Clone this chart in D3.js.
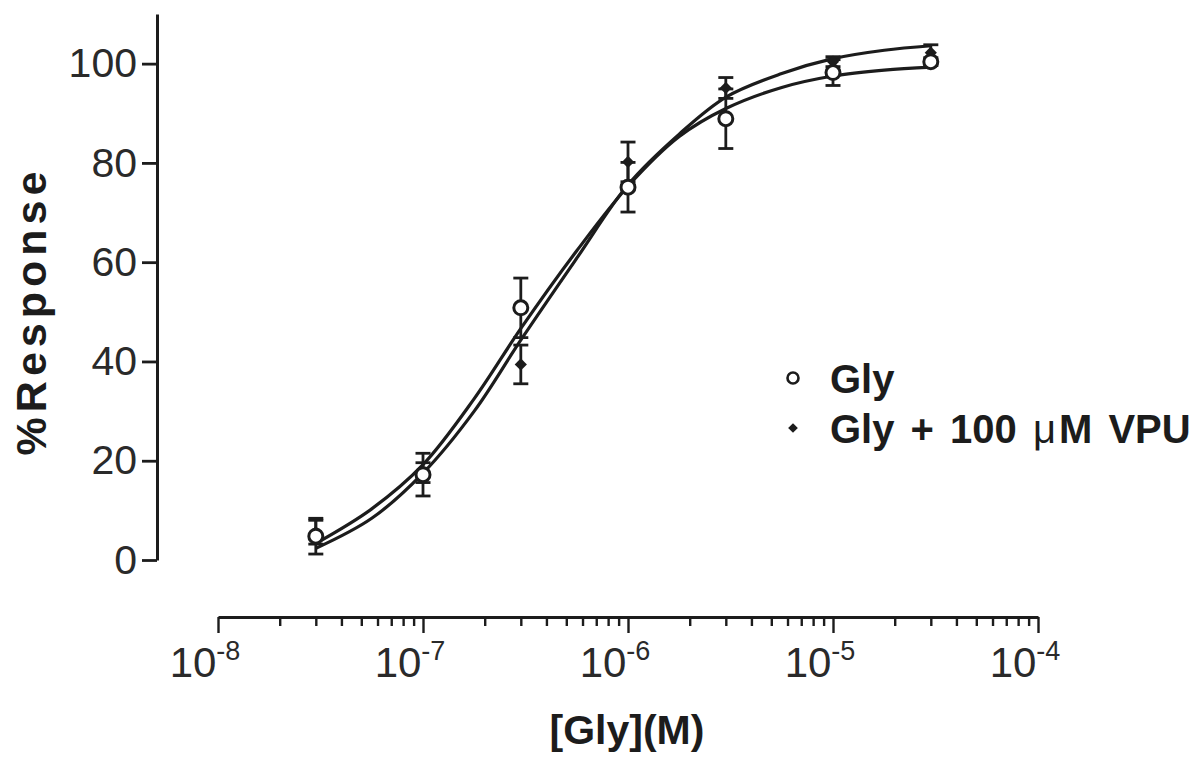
<!DOCTYPE html>
<html>
<head>
<meta charset="utf-8">
<script src="https://cdn.jsdelivr.net/npm/d3@7"></script>
<style>
	html, body { margin: 0; padding: 0; background: #fff; }
	svg { display: block; font-family: "Liberation Sans", Arial, sans-serif; }
</style>
</head>
<body>
<script>
// concentrations of glycine, molar
const conc = [3e-8, 1e-7, 3e-7, 1e-6, 3e-6, 1e-5, 3e-5];

// mean % response and SEM
const glyMean = [4.8, 17.2, 50.8, 75.1, 88.9, 98.2, 100.4];
const glySem = [3.6, 4.3, 6.0, 5.0, 6.0, 2.6, 0.8];
const vpuMean = [5.6, 17.6, 39.4, 80.2, 95.1, 100.4, 102.2];
const vpuSem = [2.4, 2.0, 3.9, 4.0, 2.1, 1.0, 1.6];

// fitted curves (log10 conc, % response)
const fitLogX = [-7.52, -7.25, -7.0, -6.75, -6.52, -6.25, -6.0, -5.75, -5.52, -5.25, -5.0, -4.75, -4.52];
const glyFit = [3.4, 10.3, 19.2, 32.5, 46.8, 62.3, 75.3, 85.3, 91.0, 95.2, 97.5, 98.7, 99.3];
const vpuFit = [2.4, 8.4, 17.5, 30.0, 44.5, 60.8, 75.6, 85.8, 93.3, 98.0, 101.0, 102.7, 103.6];

const yTicks = [0, 20, 40, 60, 80, 100];
const xMajor = [-8, -7, -6, -5, -4];

const legendLabels = ["Gly", "Gly + 100 "];

const width = 1196;
const height = 757;
const ink = "#1c1c1c";

const x = d3.scaleLog().domain([1e-8, 1e-4]).range([218, 1038]);
const y = d3.scaleLinear().domain([0, 110]).range([560, 14]);

const svg = d3.select("body")
	.append("svg")
	.attr("width", width)
	.attr("height", height);

// y axis
const yAxis = svg.append("g")
	.attr("transform", "translate(157,0)")
	.call(d3.axisLeft(y).tickValues(yTicks).tickSize(15).tickSizeOuter(0).tickPadding(5));

yAxis.select(".domain").attr("stroke", ink).attr("stroke-width", 3);
yAxis.selectAll(".tick line").attr("stroke", ink).attr("stroke-width", 2.8);
yAxis.selectAll(".tick text")
	.attr("fill", "#2a2a2a")
	.attr("font-size", 41)
	.attr("font-family", "Liberation Sans, Arial, sans-serif");

// x axis
const xAxis = svg.append("g")
	.attr("transform", "translate(0,617)")
	.call(d3.axisBottom(x).tickValues(x.ticks()).tickFormat("").tickSizeOuter(0));

xAxis.select(".domain").attr("stroke", ink).attr("stroke-width", 3);
xAxis.selectAll(".tick line")
	.attr("stroke", ink)
	.attr("stroke-width", 2.4)
	.attr("y2", (d) => Number.isInteger(Math.round(Math.log10(d) * 1000) / 1000) ? 16 : 9);

svg.append("g")
	.selectAll("text")
	.data(xMajor)
	.join("text")
	.attr("x", (d) => x(Math.pow(10, d)) - 13)
	.attr("y", 677)
	.attr("text-anchor", "middle")
	.attr("fill", "#2a2a2a")
	.attr("font-size", 42)
	.call((t) => t.append("tspan").text("10"))
	.call((t) => t.append("tspan")
		.attr("font-size", 27)
		.attr("dy", -17)
		.text((d) => d));

// axis titles
svg.append("text")
	.attr("x", 627)
	.attr("y", 744)
	.attr("text-anchor", "middle")
	.attr("font-weight", "bold")
	.attr("font-size", 41)
	.attr("fill", ink)
	.text("[Gly](M)");

svg.append("text")
	.attr("transform", "translate(46,311) rotate(-90)")
	.attr("text-anchor", "middle")
	.attr("font-weight", "bold")
	.attr("font-size", 43)
	.attr("letter-spacing", 5)
	.attr("fill", ink)
	.text("%Response");

// fitted curves
const line = d3.line()
	.x((d) => x(Math.pow(10, d[0])))
	.y((d) => y(d[1]))
	.curve(d3.curveCatmullRom.alpha(0.5));

const plot = svg.append("g");

[glyFit, vpuFit].forEach((fit) => {
	plot.append("path")
		.attr("d", line(d3.zip(fitLogX, fit)))
		.attr("fill", "none")
		.attr("stroke", ink)
		.attr("stroke-width", 3.2);
});

// error bars
function errorBars(means, sems) {
	const g = plot.append("g")
		.attr("stroke", ink)
		.attr("stroke-width", 2.8)
		.selectAll("g")
		.data(d3.zip(conc, means, sems))
		.join("g")
		.attr("transform", (d) => `translate(${x(d[0])},0)`);

	g.append("line")
		.attr("y1", (d) => y(d[1] - d[2]))
		.attr("y2", (d) => y(d[1] + d[2]));

	g.append("line")
		.attr("x1", -7.5).attr("x2", 7.5)
		.attr("y1", (d) => y(d[1] + d[2]))
		.attr("y2", (d) => y(d[1] + d[2]));

	g.append("line")
		.attr("x1", -7.5).attr("x2", 7.5)
		.attr("y1", (d) => y(d[1] - d[2]))
		.attr("y2", (d) => y(d[1] - d[2]));
}

errorBars(vpuMean, vpuSem);
errorBars(glyMean, glySem);

const diamond = d3.symbol().type(d3.symbolDiamond2).size(95);

plot.append("g")
	.selectAll("path")
	.data(d3.zip(conc, vpuMean))
	.join("path")
	.attr("transform", (d) => `translate(${x(d[0])},${y(d[1])})`)
	.attr("d", diamond)
	.attr("fill", ink);

plot.append("g")
	.selectAll("circle")
	.data(d3.zip(conc, glyMean))
	.join("circle")
	.attr("cx", (d) => x(d[0]))
	.attr("cy", (d) => y(d[1]))
	.attr("r", 7)
	.attr("fill", "#fff")
	.attr("stroke", ink)
	.attr("stroke-width", 3);

// legend
const legend = svg.append("g");

legend.append("circle")
	.attr("cx", 793)
	.attr("cy", 378)
	.attr("r", 5.5)
	.attr("fill", "#fff")
	.attr("stroke", ink)
	.attr("stroke-width", 2.6);

legend.append("path")
	.attr("transform", "translate(793,428)")
	.attr("d", d3.symbol().type(d3.symbolDiamond2).size(60))
	.attr("fill", ink);

legend.append("text")
	.attr("x", 830)
	.attr("y", 393)
	.attr("font-weight", "bold")
	.attr("font-size", 40)
	.attr("fill", ink)
	.text(legendLabels[0]);

const vpuLabel = legend.append("text")
	.attr("x", 830)
	.attr("y", 443)
	.attr("font-weight", "bold")
	.attr("font-size", 40)
	.attr("word-spacing", 5)
	.attr("fill", ink)
	.text(legendLabels[1]);

vpuLabel.append("tspan").attr("font-weight", "normal").text("\u03bc");
vpuLabel.append("tspan").attr("dx", 3).text("M VPU");
</script>
</body>
</html>
